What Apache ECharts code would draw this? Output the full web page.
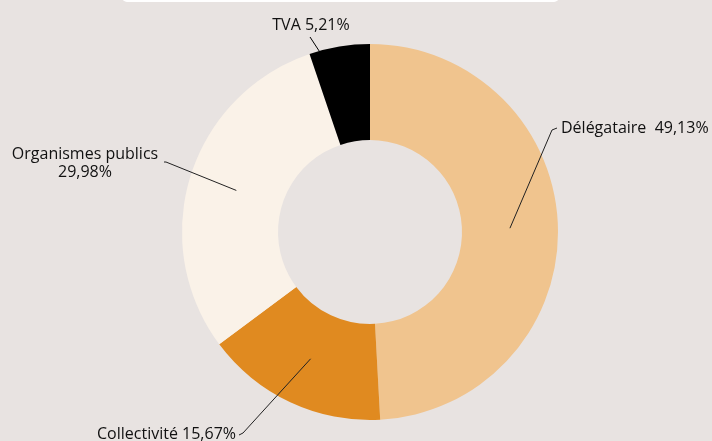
<!DOCTYPE html>
<html>
<head>
<meta charset="utf-8">
<script src="https://cdn.jsdelivr.net/npm/echarts@6/dist/echarts.min.js"></script>
<style>
  html, body { margin: 0; padding: 0; background: #e8e3e1; }
  #main { width: 712px; height: 441px; }
</style>
</head>
<body>
<div id="main"></div>
<script>
// données (en %)
var categories = ['Délégataire', 'Collectivité', 'Organismes publics', 'TVA'];
var values = [49.13, 15.67, 29.98, 5.21];
var labelJoin = ['  ', ' ', '\n', ' '];
var colors = ['#f0c48e', '#e08a20', '#faf2e8', '#000000'];

// placement des étiquettes : [x, y, align, coude, fin du trait]
var labelPos = [
    [561, 128, 'left', [552, 130], [557, 128]],
    [236, 434, 'right', [243, 433], [239, 435]],
    [85, 163, 'center', [166, 162], [164, 162]],
    [311, 25, 'center', [310, 37], [310, 37]]
];

function fmt(v) {
    return v.toFixed(2).replace('.', ',') + '%';
}

var pieData = categories.map(function (c, i) {
    return { name: c, value: values[i], itemStyle: { color: colors[i] } };
});
var labelData = categories.map(function (c, i) {
    return {
        name: c,
        value: values[i],
        // sur le noir, le trait doit disparaître
        labelLine: { lineStyle: { color: i === 3 ? '#000' : '#222' } }
    };
});

var myChart = echarts.init(document.getElementById('main'));
myChart.setOption({
    backgroundColor: '#e8e3e1',
    animation: false,
    graphic: [{
        type: 'rect',
        shape: { x: 122, y: -20, width: 437, height: 22, r: 5 },
        style: { fill: '#ffffff' },
        silent: true
    }],
    series: [
        {
            // anneau
            type: 'pie',
            z: 1,
            center: [370, 232],
            radius: [92, 188],
            startAngle: 90,
            clockwise: true,
            silent: true,
            label: { show: false },
            labelLine: { show: false },
            data: pieData
        },
        {
            // étiquettes, traits partant du milieu de l'anneau
            type: 'pie',
            z: 5,
            center: [370, 232],
            radius: [0, 140],
            startAngle: 90,
            clockwise: true,
            silent: true,
            avoidLabelOverlap: false,
            minShowLabelAngle: 0,
            itemStyle: { color: 'rgba(0,0,0,0)' },
            label: {
                show: true,
                position: 'outside',
                color: '#111',
                fontFamily: 'Open Sans',
                fontWeight: 500,
                fontSize: 16,
                lineHeight: 18,
                formatter: function (p) {
                    return categories[p.dataIndex] + labelJoin[p.dataIndex] + fmt(values[p.dataIndex]);
                }
            },
            labelLine: {
                show: true,
                length: 20,
                length2: 10,
                lineStyle: { width: 1 }
            },
            labelLayout: function (params) {
                var lp = labelPos[params.dataIndex];
                var start = params.labelLinePoints ? params.labelLinePoints[0] : lp[3];
                return {
                    x: lp[0],
                    y: lp[1],
                    align: lp[2],
                    verticalAlign: 'middle',
                    labelLinePoints: [start, lp[3], lp[4]]
                };
            },
            data: labelData
        }
    ]
});
</script>
</body>
</html>
